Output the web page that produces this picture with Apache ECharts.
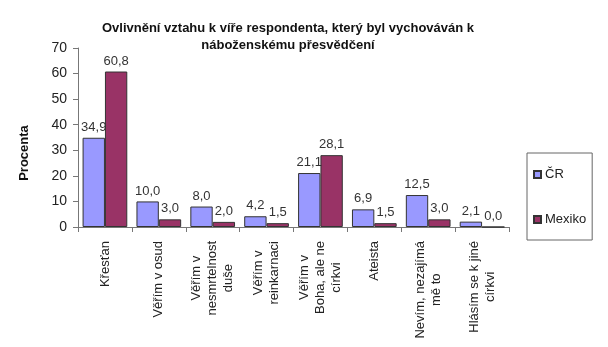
<!DOCTYPE html>
<html>
<head>
<meta charset="utf-8">
<script src="https://cdn.jsdelivr.net/npm/echarts@6/dist/echarts.min.js"></script>
<style>
html,body{margin:0;padding:0;background:#fff;}
#chart{width:608px;height:347px;}
</style>
</head>
<body>
<div id="chart"></div>
<script>
const titleText = "Ovlivnění vztahu k víře respondenta, který byl vychováván k\nnáboženskému přesvědčení";
const yAxisName = "Procenta";
const categories = [
  "Křesťan",
  "Věřím v osud",
  "Věřím v\nnesmrtelnost\nduše",
  "Věřím v\nreinkarnaci",
  "Věřím v\nBoha, ale ne\ncírkvi",
  "Ateista",
  "Nevím, nezajímá\nmě to",
  "Hlásím se k jiné\ncírkvi"
];
const seriesNames = ["ČR", "Mexiko"];
const valuesCR = [34.9, 10.0, 8.0, 4.2, 21.1, 6.9, 12.5, 2.1];
const valuesMexiko = [60.8, 3.0, 2.0, 1.5, 28.1, 1.5, 3.0, 0.0];
const yTicks = [0, 10, 20, 30, 40, 50, 60, 70];

const FONT = "'Liberation Sans', Arial, sans-serif";
const chart = echarts.init(document.getElementById('chart'), null, {renderer: 'canvas'});

const labelFmt = p => p.value.toFixed(1).replace('.', ',');

chart.setOption({
  backgroundColor: '#ffffff',
  animation: false,
  textStyle: {fontFamily: FONT},
  graphic: [
    {
      type: 'text', x: 288, y: 37,
      style: {
        text: titleText, align: 'center', verticalAlign: 'middle',
        font: 'bold 13px ' + FONT, lineHeight: 17, fill: '#111'
      }
    },
    {
      type: 'text', x: 24, y: 153, rotation: Math.PI / 2,
      style: {
        text: yAxisName, align: 'center', verticalAlign: 'middle',
        font: 'bold 13px ' + FONT, fill: '#111'
      }
    }
  ],
  legend: {
    orient: 'vertical',
    left: 527, top: 153,
    padding: [15, 6, 14, 6],
    itemGap: 32,
    itemWidth: 7, itemHeight: 7,
    icon: 'rect',
    borderColor: '#666', borderWidth: 1,
    textStyle: {fontSize: 13, color: '#222', fontFamily: FONT, padding: [0, 0, 0, -1]},
    data: seriesNames
  },
  grid: {left: 78, right: 99, top: 48, bottom: 120, containLabel: false},
  xAxis: {
    type: 'category',
    data: categories,
    axisLine: {lineStyle: {color: '#777', width: 1}},
    axisTick: {show: true, length: 5, lineStyle: {color: '#777'}},
    axisLabel: {
      rotate: 90, margin: 14, interval: 0,
      fontSize: 13, color: '#222', fontFamily: FONT,
      formatter: v => v.split('\n').map(l => '{c|' + l + '}').join('\n'),
      rich: {c: {align: 'center', fontSize: 13, lineHeight: 16, color: '#222', fontFamily: FONT}}
    }
  },
  yAxis: {
    type: 'value',
    min: yTicks[0], max: yTicks[yTicks.length - 1], interval: 10,
    axisLine: {show: true, lineStyle: {color: '#777', width: 1}},
    axisTick: {show: true, length: 5, lineStyle: {color: '#777'}},
    splitLine: {show: false},
    axisLabel: {margin: 11, fontSize: 14, color: '#222', fontFamily: FONT}
  },
  series: [
    {
      name: seriesNames[0], type: 'bar', data: valuesCR,
      barGap: '0%', barCategoryGap: '17%',
      itemStyle: {color: '#9999FF', borderColor: '#333', borderWidth: 1},
      label: {show: true, position: 'top', distance: 4, formatter: labelFmt,
              fontSize: 13, color: '#333', fontFamily: FONT}
    },
    {
      name: seriesNames[1], type: 'bar', data: valuesMexiko,
      barGap: '0%', barCategoryGap: '17%',
      itemStyle: {color: '#993366', borderColor: '#333', borderWidth: 1},
      label: {show: true, position: 'top', distance: 4, formatter: labelFmt,
              fontSize: 13, color: '#333', fontFamily: FONT}
    }
  ]
});
</script>
</body>
</html>
